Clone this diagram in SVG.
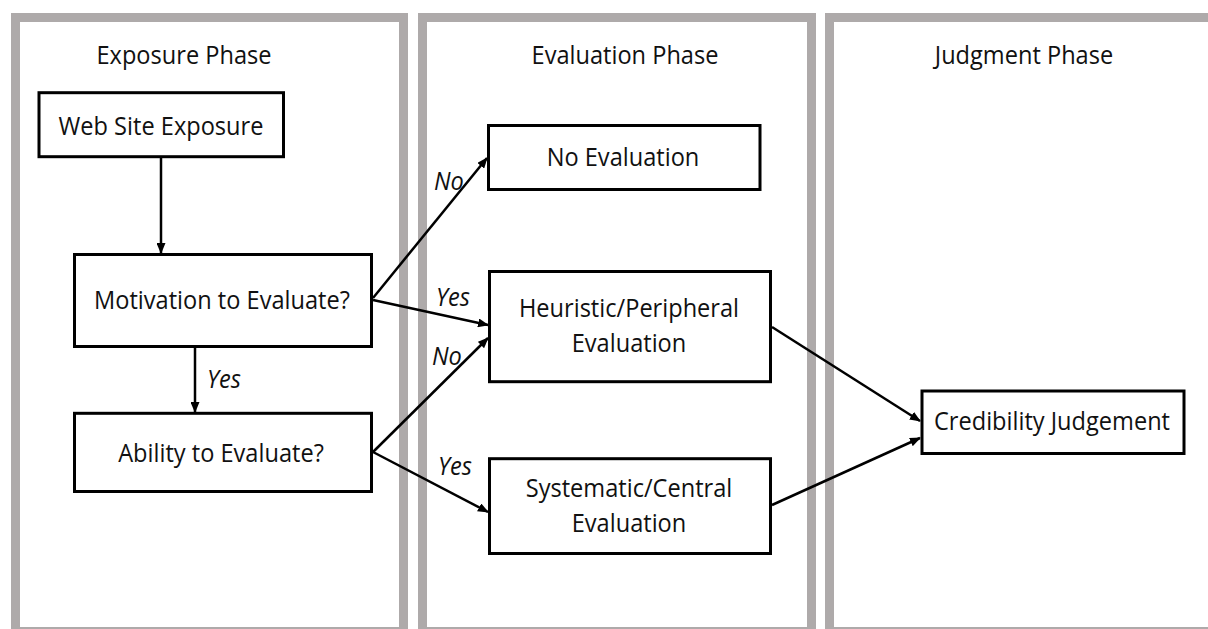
<svg xmlns="http://www.w3.org/2000/svg" width="1208" height="629" viewBox="0 0 1208 629">
  <style>
    .panel { fill: #ffffff; stroke: #AEAAAA; stroke-width: 9; }
    .box { fill: #ffffff; stroke: #000000; stroke-width: 3; }
    .t { font-family: "Open Sans", "Noto Sans", "DejaVu Sans", sans-serif; font-size: 23.6px; fill: #111111; text-anchor: middle; }
    .lbl { font-family: "Open Sans", "Noto Sans", "DejaVu Sans", sans-serif; font-size: 23.6px; font-style: italic; fill: #111111; }
    .edge { fill: none; stroke: #000000; stroke-width: 2.5; marker-end: url(#arrow); }
  </style>
  <defs>
    <marker id="arrow" markerUnits="userSpaceOnUse" markerWidth="11" markerHeight="9" refX="10" refY="4.5" orient="auto">
      <path d="M0,0 L11,4.5 L0,9 Z" fill="#000000"/>
    </marker>
  </defs>
  <rect width="1208" height="629" fill="#ffffff"/>

  <!-- phase columns; text is drawn at the origin and placed by transform (slightly tall glyphs) -->
  <g id="phase-exposure">
    <rect class="panel" x="15.5" y="17.5" width="388" height="614"/>
    <text class="t" transform="translate(184,64) scale(1,1.1)">Exposure Phase</text>
  </g>
  <g id="phase-evaluation">
    <rect class="panel" x="422.5" y="17.5" width="389" height="614"/>
    <text class="t" transform="translate(625,64) scale(1,1.1)">Evaluation Phase</text>
  </g>
  <g id="phase-judgment">
    <rect class="panel" x="829.5" y="17.5" width="400" height="614"/>
    <text class="t" transform="translate(1024,64) scale(1,1.1)">Judgment Phase</text>
  </g>

  <!-- nodes -->
  <g id="web-site-exposure">
    <rect class="box" x="39" y="92.7" width="244.5" height="64"/>
    <text class="t" transform="translate(161,135) scale(1,1.1)">Web Site Exposure</text>
  </g>
  <g id="motivation">
    <rect class="box" x="74.5" y="254.5" width="297" height="92"/>
    <text class="t" transform="translate(222,309) scale(1,1.1)">Motivation to Evaluate?</text>
  </g>
  <g id="ability">
    <rect class="box" x="74.5" y="413.3" width="297" height="78.2"/>
    <text class="t" transform="translate(221,461.5) scale(1,1.1)">Ability to Evaluate?</text>
  </g>
  <g id="no-evaluation">
    <rect class="box" x="488.5" y="125.5" width="271.5" height="64"/>
    <text class="t" transform="translate(623,165.5) scale(1,1.1)">No Evaluation</text>
  </g>
  <g id="heuristic">
    <rect class="box" x="489.5" y="271.5" width="281" height="110.2"/>
    <text class="t" transform="translate(629,316.5) scale(1,1.1)">Heuristic/Peripheral</text>
    <text class="t" transform="translate(629,351.5) scale(1,1.1)">Evaluation</text>
  </g>
  <g id="systematic">
    <rect class="box" x="489.5" y="458.7" width="281" height="94.8"/>
    <text class="t" transform="translate(629,496.5) scale(1,1.1)">Systematic/Central</text>
    <text class="t" transform="translate(629,531.5) scale(1,1.1)">Evaluation</text>
  </g>
  <g id="credibility">
    <rect class="box" x="922" y="391" width="262" height="62.5"/>
    <text class="t" transform="translate(1052,430) scale(1,1.1)">Credibility Judgement</text>
  </g>

  <!-- connectors -->
  <g id="connectors">
    <line class="edge" x1="161" y1="158" x2="161" y2="253"/>
    <line class="edge" x1="195" y1="348" x2="195" y2="412"/>
    <line class="edge" x1="373" y1="298" x2="487" y2="158"/>
    <line class="edge" x1="373" y1="300" x2="488" y2="325"/>
    <line class="edge" x1="373" y1="452" x2="488" y2="338"/>
    <line class="edge" x1="373" y1="452" x2="488" y2="512"/>
    <line class="edge" x1="772" y1="327" x2="920" y2="421"/>
    <line class="edge" x1="772" y1="505" x2="920" y2="438"/>
    <text class="lbl" transform="translate(207,388) scale(1,1.1)">Yes</text>
    <text class="lbl" transform="translate(434,190) scale(1,1.1)">No</text>
    <text class="lbl" transform="translate(436,306) scale(1,1.1)">Yes</text>
    <text class="lbl" transform="translate(432,365) scale(1,1.1)">No</text>
    <text class="lbl" transform="translate(438,475) scale(1,1.1)">Yes</text>
  </g>
</svg>
